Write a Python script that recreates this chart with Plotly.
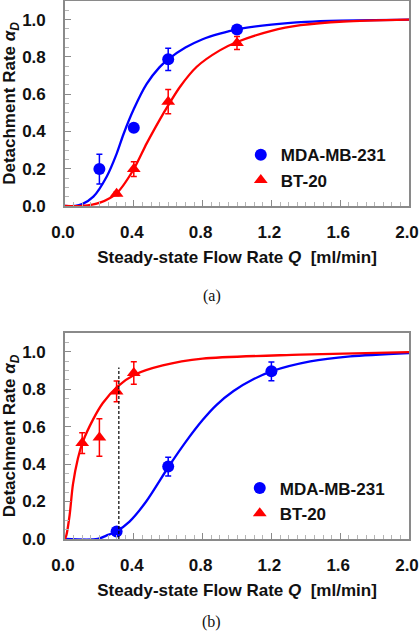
import plotly.graph_objects as go

# ---------------- data ----------------
# Panel (a)
a_mda_q = [0.2, 0.4, 0.6, 1.0]
a_mda_val = [0.198, 0.42, 0.787, 0.947]
a_mda_err = [0.08, 0.02, 0.06, 0.01]

a_bt_q = [0.3, 0.4, 0.6, 1.0]
a_bt_val = [0.065, 0.198, 0.56, 0.875]
a_bt_err = [0.01, 0.04, 0.065, 0.035]

a_mda_fit_q = [0.0, 0.06, 0.10, 0.165, 0.242, 0.30, 0.34, 0.40, 0.475, 0.55, 0.60, 0.70, 0.80, 0.90, 1.0, 1.2, 1.4, 1.6, 2.0]
a_mda_fit_val = [0.0, 0.0, 0.01, 0.05, 0.157, 0.28, 0.385, 0.52, 0.655, 0.745, 0.787, 0.85, 0.895, 0.925, 0.948, 0.973, 0.988, 0.995, 1.0]

a_bt_fit_q = [0.0, 0.10, 0.203, 0.30, 0.397, 0.475, 0.552, 0.60, 0.669, 0.766, 0.90, 1.0, 1.2, 1.37, 1.62, 2.0]
a_bt_fit_val = [0.0, 0.0, 0.018, 0.068, 0.193, 0.336, 0.465, 0.54, 0.64, 0.747, 0.835, 0.88, 0.94, 0.97, 0.99, 1.0]

# Panel (b)
b_mda_q = [0.3, 0.6, 1.2]
b_mda_val = [0.04, 0.387, 0.895]
b_mda_err = [0.01, 0.05, 0.05]

b_bt_q = [0.1, 0.2, 0.3, 0.4]
b_bt_val = [0.512, 0.542, 0.788, 0.886]
b_bt_err = [0.055, 0.10, 0.055, 0.06]

b_mda_fit_q = [0.0, 0.19, 0.24, 0.298, 0.375, 0.472, 0.603, 0.703, 0.80, 0.88, 0.98, 1.1, 1.2, 1.426, 1.658, 2.0]
b_mda_fit_val = [0.0, 0.0, 0.018, 0.04, 0.093, 0.20, 0.387, 0.52, 0.635, 0.715, 0.79, 0.855, 0.895, 0.948, 0.975, 0.993]

b_bt_fit_q = [0.0, 0.008, 0.027, 0.046, 0.075, 0.104, 0.162, 0.22, 0.307, 0.404, 0.568, 0.80, 1.368, 2.0]
b_bt_fit_val = [0.0, 0.02, 0.128, 0.29, 0.43, 0.52, 0.636, 0.726, 0.815, 0.877, 0.927, 0.963, 0.984, 0.998]

b_guide_q = [0.313, 0.313]
b_guide_val = [0.0, 0.916]

x_ticks = [0.0, 0.4, 0.8, 1.2, 1.6, 2.0]
y_ticks = [0.0, 0.2, 0.4, 0.6, 0.8, 1.0]

series_names = ["MDA-MB-231", "BT-20"]
panel_labels = ["(a)", "(b)"]

BLUE = "#0000ff"
RED = "#ff0000"
FONT = "Liberation Sans"
TXT = "#111111"

fig = go.Figure()


def add_panel(xa, ya, legend, mda, bt, mda_fit, bt_fit):
    # fitted curves
    fig.add_trace(go.Scatter(x=mda_fit[0], y=mda_fit[1], mode="lines", line=dict(color=BLUE, width=2.3, shape="spline", smoothing=0.8),
                             xaxis=xa, yaxis=ya, showlegend=False, hoverinfo="skip"))
    fig.add_trace(go.Scatter(x=bt_fit[0], y=bt_fit[1], mode="lines", line=dict(color=RED, width=2.3, shape="spline", smoothing=0.8),
                             xaxis=xa, yaxis=ya, showlegend=False, hoverinfo="skip"))
    # data points
    fig.add_trace(go.Scatter(x=mda[0], y=mda[1], mode="markers", name=series_names[0],
                             marker=dict(symbol="circle", size=12, color=BLUE),
                             error_y=dict(type="data", array=mda[2], color=BLUE, thickness=1.5, width=3),
                             xaxis=xa, yaxis=ya, legend=legend, legendrank=1))
    fig.add_trace(go.Scatter(x=bt[0], y=bt[1], mode="markers", name=series_names[1],
                             marker=dict(symbol="triangle-up", size=12, color=RED),
                             error_y=dict(type="data", array=bt[2], color=RED, thickness=1.5, width=3),
                             xaxis=xa, yaxis=ya, legend=legend, legendrank=2))


add_panel("x", "y", "legend",
          (a_mda_q, a_mda_val, a_mda_err), (a_bt_q, a_bt_val, a_bt_err),
          (a_mda_fit_q, a_mda_fit_val), (a_bt_fit_q, a_bt_fit_val))
add_panel("x2", "y2", "legend2",
          (b_mda_q, b_mda_val, b_mda_err), (b_bt_q, b_bt_val, b_bt_err),
          (b_mda_fit_q, b_mda_fit_val), (b_bt_fit_q, b_bt_fit_val))

fig.add_trace(go.Scatter(x=b_guide_q, y=b_guide_val, mode="lines", line=dict(color="#000000", width=1.2, dash="3px,2px"),
                         xaxis="x2", yaxis="y2", showlegend=False, hoverinfo="skip"))

AXCOL = "#8a8a8a"
tickfont = dict(family=FONT, size=17, color=TXT, weight="bold")
titlefont = dict(family=FONT, size=17, color=TXT, weight="bold")

def xaxis_cfg(anchor):
    return dict(range=[0, 2.0], tickvals=x_ticks, ticktext=[f"{v:.1f}" for v in x_ticks],
                ticks="inside", ticklen=6, tickwidth=1, tickcolor=AXCOL,
                minor=dict(dtick=0.05, ticks="inside", ticklen=4, tickcolor="#b5b5b5", tickwidth=1),
                showline=True, linecolor=AXCOL, linewidth=1.6, mirror=True,
                showgrid=False, zeroline=False, tickfont=tickfont, ticklabelstandoff=10,
                ticklabelshift=-2, ticklabeloverflow="allow", automargin=False,
                title=dict(text="Steady-state Flow Rate <i>Q</i>\u00a0 [ml/min]", font=titlefont, standoff=10),
                anchor=anchor)

def yaxis_cfg(anchor, domain):
    return dict(range=[0, 1.1], tickvals=y_ticks, ticktext=[f"{v:.1f}" for v in y_ticks],
                ticks="inside", ticklen=6, tickwidth=1, tickcolor=AXCOL,
                minor=dict(dtick=0.05, ticks="inside", ticklen=4, tickcolor="#b5b5b5", tickwidth=1),
                showline=True, linecolor=AXCOL, linewidth=1.6, mirror=True,
                showgrid=False, zeroline=False, tickfont=tickfont, ticklabelstandoff=14,
                automargin=False,
                title=dict(text="Detachment Rate <i>α<sub>D</sub></i>", font=titlefont, standoff=3),
                anchor=anchor, domain=domain)

legfont = dict(family=FONT, size=17, color=TXT, weight="bold")

fig.update_layout(
    width=419, height=631,
    margin=dict(l=65, r=10, t=1, b=92),
    plot_bgcolor="white", paper_bgcolor="white",
    xaxis=xaxis_cfg("y"),
    yaxis=yaxis_cfg("x", [0.619, 1.0]),
    xaxis2=xaxis_cfg("y2"),
    yaxis2=yaxis_cfg("x2", [0.0, 0.383]),
    legend=dict(x=0.511, y=0.69, xanchor="left", yanchor="middle", bgcolor="rgba(0,0,0,0)",
                font=legfont, itemwidth=30, tracegroupgap=0, traceorder="normal"),
    legend2=dict(x=0.508, y=0.0706, xanchor="left", yanchor="middle", bgcolor="rgba(0,0,0,0)",
                 font=legfont, itemwidth=30, tracegroupgap=0, traceorder="normal"),
    annotations=[
        dict(text=panel_labels[0], xref="paper", yref="paper", x=0.427, y=0.452, showarrow=False,
             font=dict(family="Liberation Serif", size=16, color=TXT), xanchor="center", yanchor="middle"),
        dict(text=panel_labels[1], xref="paper", yref="paper", x=0.427, y=-0.1755, showarrow=False,
             font=dict(family="Liberation Serif", size=16, color=TXT), xanchor="center", yanchor="bottom"),
    ],
    showlegend=True,
)

# the page's default 8px body margin would shift the 419x631 figure; remove it
fig.write_html("out.html", config={"displayModeBar": False},
               post_script="document.body.style.margin='0px';document.body.style.overflow='hidden';")
